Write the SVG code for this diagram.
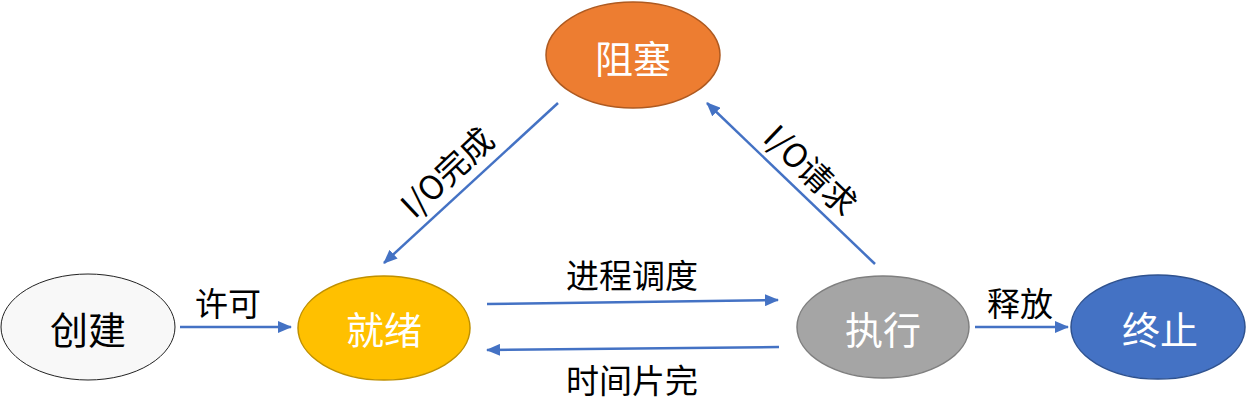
<svg xmlns="http://www.w3.org/2000/svg" width="1247" height="420" viewBox="0 0 1247 420">
<style>
text{font-family:"Noto Sans CJK SC","Microsoft YaHei",sans-serif;text-anchor:middle;dominant-baseline:central}
.n{font-size:38px}
.l{font-size:33px;fill:#000}
.w{fill:#fff}
.c{stroke:#4472c4;stroke-width:2.5;fill:none;marker-end:url(#ah)}
</style>
<defs>
<marker id="ah" markerUnits="userSpaceOnUse" markerWidth="14" markerHeight="12" refX="13" refY="6" orient="auto">
<path d="M0,0 L14,6 L0,12 z" fill="#4472c4"/>
</marker>
</defs>
<g id="node-create"><ellipse cx="88" cy="327" rx="87" ry="53" fill="#f8f8f8" stroke="#222" stroke-width="1"/><text class="n" x="88" y="327">创建</text></g>
<g id="node-ready"><ellipse cx="384" cy="328" rx="86" ry="52" fill="#ffc000" stroke="#bf9000" stroke-width="1.5"/><text class="n w" x="384" y="327">就绪</text></g>
<g id="node-blocked"><ellipse cx="633" cy="55" rx="87" ry="53" fill="#ed7d31" stroke="#ae5a21" stroke-width="1.5"/><text class="n w" x="633" y="56">阻塞</text></g>
<g id="node-running"><ellipse cx="883" cy="327" rx="86" ry="51" fill="#a5a5a5" stroke="#7f7f7f" stroke-width="1.5"/><text class="n w" x="883" y="327">执行</text></g>
<g id="node-terminated"><ellipse cx="1158" cy="327" rx="87" ry="52" fill="#4472c4" stroke="#2f528f" stroke-width="1.5"/><text class="n w" x="1160" y="327">终止</text></g>
<g id="connectors">
<line class="c" x1="180" y1="327" x2="291" y2="327"/>
<line class="c" x1="487" y1="304" x2="778" y2="300"/>
<line class="c" x1="779" y1="347" x2="487" y2="350"/>
<line class="c" x1="975" y1="327" x2="1068" y2="327"/>
<line class="c" x1="558" y1="103" x2="384" y2="263"/>
<line class="c" x1="875" y1="264" x2="707" y2="103"/>
</g>
<g id="labels">
<text class="l" x="228" y="302">许可</text>
<text class="l" x="632" y="274">进程调度</text>
<text class="l" x="632" y="379">时间片完</text>
<text class="l" x="1020" y="302">释放</text>
<text class="l" x="446" y="171" transform="rotate(-43.3 446 171)">I/O完成</text>
<text class="l" x="812" y="169" transform="rotate(43.8 812 169)">I/O请求</text>
</g>
</svg>
